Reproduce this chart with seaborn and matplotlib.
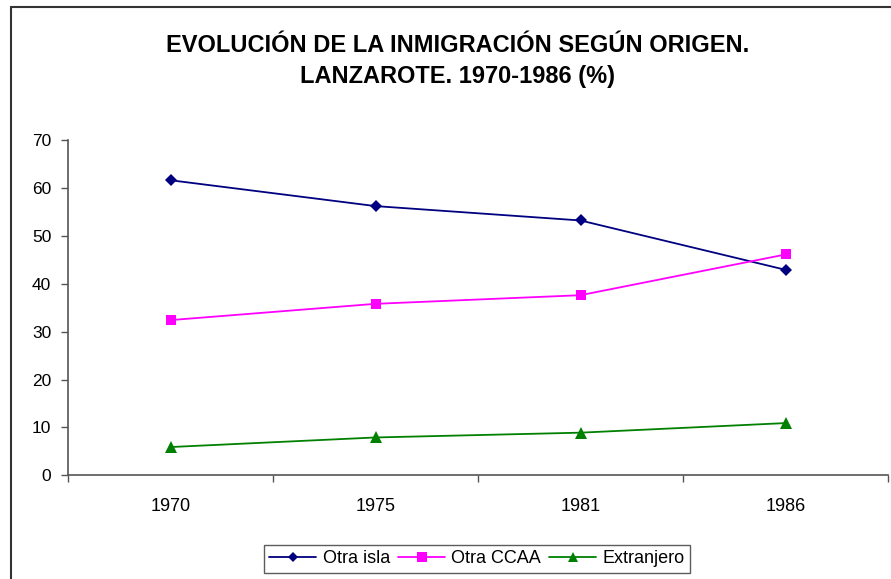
import matplotlib

matplotlib.use("Agg")

import matplotlib.pyplot as plt
import pandas as pd
import seaborn as sns
from matplotlib.lines import Line2D

# data
years = ["1970", "1975", "1981", "1986"]
otra_isla = [61.6, 56.2, 53.2, 42.9]
otra_ccaa = [32.4, 35.8, 37.6, 46.1]
extranjero = [5.9, 7.9, 8.9, 10.9]
series_names = ["Otra isla", "Otra CCAA", "Extranjero"]
y_ticks = [0, 10, 20, 30, 40, 50, 60, 70]

colors = dict(zip(series_names, ["#000080", "#FF00FF", "#008000"]))
markers = dict(zip(series_names, ["D", "s", "^"]))
marker_sizes = dict(zip(series_names, [6.5, 7.5, 8.5]))

rows = []
for name, values in zip(series_names, [otra_isla, otra_ccaa, extranjero]):
    for pos, (year, value) in enumerate(zip(years, values)):
        rows.append({"serie": name, "year": year, "pos": pos, "value": value})
df = pd.DataFrame(rows)

sns.set_style("white")
plt.rcParams["font.family"] = ["Liberation Sans", "DejaVu Sans"]
plt.rcParams["text.color"] = "black"
plt.rcParams["xtick.labelcolor"] = "black"
plt.rcParams["ytick.labelcolor"] = "black"

fig = plt.figure(figsize=(8.91, 5.79), dpi=100)
ax = fig.add_axes([68 / 891, 1 - 475.3 / 579, 820 / 891, 335.3 / 579])

for name in series_names:
    sub = df[df["serie"] == name]
    sns.lineplot(
        data=sub, x="pos", y="value", color=colors[name], marker=markers[name],
        markersize=marker_sizes[name], markeredgewidth=0, linewidth=1.3,
        ax=ax, label=name, legend=False,
    )

ax.set_xlim(-0.5, len(years) - 0.5)
ax.set_ylim(0, 70)
ax.set_yticks(y_ticks)
ax.set_xticks(range(len(years)))
ax.set_xticklabels(years)
ax.set_xticks([i - 0.5 for i in range(len(years) + 1)], minor=True)
ax.tick_params(axis="x", which="major", bottom=True, length=0, pad=16.5, labelsize=13)
ax.tick_params(axis="x", which="minor", bottom=True, length=5, width=1, color="#555555",
               direction="out")
ax.tick_params(axis="y", left=True, length=5, width=1, color="#555555", direction="out",
               pad=7, labelsize=12.5)
ax.set_xlabel("")
ax.set_ylabel("")
for side in ["top", "right"]:
    ax.spines[side].set_visible(False)
for side in ["left", "bottom"]:
    ax.spines[side].set_color("#555555")
    ax.spines[side].set_linewidth(1.2)

# title
fig.text(458 / 891, 1 - 52 / 579, "EVOLUCIÓN DE LA INMIGRACIÓN SEGÚN ORIGEN.",
         ha="center", va="baseline", fontsize=17, fontweight="bold", color="black")
fig.text(458 / 891, 1 - 82.5 / 579, "LANZAROTE. 1970-1986 (%)",
         ha="center", va="baseline", fontsize=17, fontweight="bold", color="black")

# legend
handles = [
    Line2D([], [], color=colors[n], marker=markers[n], markersize=marker_sizes[n] - 1,
           markeredgewidth=0, linewidth=1.3)
    for n in series_names
]
leg = fig.legend(
    handles, series_names, loc="center", bbox_to_anchor=(477 / 891, 1 - 558.7 / 579),
    ncol=3, frameon=True, fancybox=False, fontsize=13, handlelength=2.6,
    columnspacing=0.45, handletextpad=0.35, borderpad=0.3,
)
leg.get_frame().set_edgecolor("#333333")
leg.get_frame().set_linewidth(1)
for t in leg.get_texts():
    t.set_color("black")

# chart frame (left and top edges visible)
fig.add_artist(Line2D([11 / 891, 11 / 891], [0, 1 - 7 / 579], color="#333333", linewidth=1.5,
                      transform=fig.transFigure))
fig.add_artist(Line2D([11 / 891, 1], [1 - 7 / 579, 1 - 7 / 579], color="#333333", linewidth=1.5,
                      transform=fig.transFigure))

fig.savefig("out.png", dpi=100)
plt.close(fig)
